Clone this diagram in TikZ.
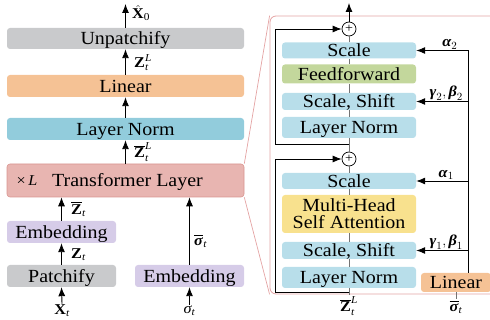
\documentclass[tikz,border=0pt]{standalone}
\usepackage{amsmath}
\usepackage{fontspec}
\setmainfont{Liberation Serif}[FakeStretch=1.08]
\usetikzlibrary{arrows.meta}
\definecolor{cgray}{HTML}{C9CACC}
\definecolor{corange}{HTML}{F5C295}
\definecolor{cblue}{HTML}{92CCDC}
\definecolor{cpink}{HTML}{E8B5B1}
\definecolor{cpinkline}{HTML}{D99590}
\definecolor{cpurple}{HTML}{D6CCE8}
\definecolor{clight}{HTML}{B8DEEA}
\definecolor{cgreen}{HTML}{C3D79C}
\definecolor{cyellow}{HTML}{F8E18E}
\definecolor{cframe}{HTML}{E4A3A3}
\newcommand{\barZ}{\overline{\textbf{Z}}}
\newcommand{\barsig}{\overline{\textbf{\textit{σ}}}}
\begin{document}
\begin{tikzpicture}[x=1pt, y=-1pt,
    box/.style={rounded corners=3pt, inner sep=0pt, text height=14.5pt, text depth=1.5pt, font=\fontsize{18.5}{17}\selectfont},
    sbox/.style={box, fill=clight, minimum width=134pt},
    lab/.style={inner sep=1pt, font=\fontsize{15}{15}\selectfont},
    arr/.style={-{Latex[length=9pt,width=7pt]}, line width=0.9pt},
    wire/.style={line width=0.8pt, black!55},
    plus/.style={circle, draw, fill=white, line width=0.7pt, minimum size=14pt, inner sep=0pt, font=\fontsize{13}{13}\selectfont}]
    \path[use as bounding box] (0,0) rectangle (490,320) ;
    \clip (0,0) rectangle (490,320) ;

    \node[box, fill=cgray, minimum width=237pt, minimum height=21pt] (unp) at (125.5,38.5) {Unpatchify} ;
    \node[box, fill=corange, minimum width=237pt, minimum height=22pt] (lin) at (125.5,86) {Linear} ;
    \node[box, fill=cblue, minimum width=237pt, minimum height=22pt] (ln) at (125.5,129) {Layer Norm} ;
    \node[box, fill=cpink, draw=cpinkline, line width=0.6pt, minimum width=237pt, minimum height=33pt] (tl) at (125.5,180.5) {\hspace{4pt}Transformer Layer} ;
    \node[lab] (xl) at (27,181) {×\,\textit{L}} ;
    \node[box, fill=cpurple, minimum width=109pt, minimum height=22pt] (emb) at (61.5,232) {Embedding} ;
    \node[box, fill=cgray, minimum width=109pt, minimum height=22pt] (pat) at (61.5,276) {Patchify} ;
    \node[box, fill=cpurple, minimum width=109pt, minimum height=22pt] (emb2) at (189.5,276) {Embedding} ;

    \coordinate (out) at (125.5,4) ;
    \node[lab] (xt) at (62,311) {$\textbf{X}_{\textit{t}}$} ;
    \node[lab] (sig) at (189.5,311) {$\textit{σ}_{\textit{t}}$} ;
    \draw[arr] (unp.north) -- (out) ;
    \draw[arr] (lin.north) -- (unp.south) ;
    \draw[arr] (ln.north) -- (lin.south) ;
    \draw[arr] (tl.north) -- (ln.south) ;
    \draw[arr] (emb.north) -- (emb.north |- tl.south) ;
    \draw[arr] (pat.north) -- (emb.south) ;
    \draw[arr] (xt.north) -- (pat.south) ;
    \draw[arr] (emb2.north) -- (emb2.north |- tl.south) ;
    \draw[arr] (sig.north) -- (emb2.south) ;
    \node[lab, anchor=west] (x0) at (131,13) {$\hat{\textbf{X}}_{\text{0}}$} ;
    \node[lab, anchor=west] (zl) at (133,63) {$\textbf{Z}_{\textit{t}}^{\textit{L}}$} ;
    \node[lab, anchor=west] (zbl) at (133,152) {$\barZ_{\textit{t}}^{\textit{L}}$} ;
    \node[lab, anchor=west] (zb) at (70,209) {$\barZ_{\textit{t}}$} ;
    \node[lab, anchor=west] (z) at (70,255) {$\textbf{Z}_{\textit{t}}$} ;
    \node[lab, anchor=west] (sb) at (193,241) {$\barsig_{\textit{t}}$} ;

    \node[draw=cframe, rounded corners=6pt, line width=0.8pt, minimum width=230pt, minimum height=278pt] (pnl) at (385,155) {} ;
    \draw[cframe, line width=0.7pt] (tl.north east) -- (pnl.north west) ;
    \draw[cframe, line width=0.7pt] (tl.south east) -- (pnl.south west) ;

    \node[plus] (plus2) at (349,29) {+} ;
    \node[sbox, minimum height=16pt] (sc2) at (349,50.5) {Scale} ;
    \node[box, fill=cgreen, minimum width=134pt, minimum height=19pt] (ff) at (349,74) {Feedforward} ;
    \node[sbox, minimum height=17pt] (ss2) at (349,101.5) {Scale, Shift} ;
    \node[sbox, minimum height=21pt] (ln2) at (349,127.5) {Layer Norm} ;
    \node[plus] (plus1) at (349,159) {+} ;
    \node[sbox, minimum height=16pt] (sc1) at (349,181) {Scale} ;
    \node[rounded corners=3pt, inner sep=0pt, fill=cyellow, minimum width=134pt, minimum height=38pt, align=center, font=\fontsize{18.5}{17}\selectfont] (mh) at (349,214) {Multi-Head\\Self Attention} ;
    \node[sbox, minimum height=17pt] (ss1) at (349,250.5) {Scale, Shift} ;
    \node[sbox, minimum height=21pt] (ln1) at (349,277.5) {Layer Norm} ;
    \node[box, fill=corange, minimum width=70pt, minimum height=19pt] (lin2) at (456,282.5) {Linear} ;
    \node[lab] (zin) at (349,306) {$\barZ_{\textit{t}}^{\textit{L}}$} ;
    \node[lab] (sin) at (456,307) {$\barsig_{\textit{t}}$} ;

    \foreach \a/\b in {ln1/ss1, ss1/mh, mh/sc1, sc1/plus1, plus1/ln2, ln2/ss2, ss2/ff, ff/sc2, sc2/plus2}
        \draw[wire] (\a) -- (\b) ;
    \draw[wire] (ln1.south) -- (zin.north) ;
    \draw[wire] (lin2.south) -- (sin.north) ;
    \coordinate (top) at (349,3) ;
    \draw[arr] (plus2.north) -- (top) ;
    \coordinate (s1) at (349,292) ;
    \coordinate (s2) at (349,144) ;
    \draw[arr] (s1) -- ++(-74,0) |- (plus1) ;
    \draw[arr] (s2) -- ++(-74,0) |- (plus2) ;

    \coordinate (ctl) at (468,0) ;
    \draw[line width=0.9pt] (sc2.east -| ctl) -- (lin2.north -| ctl) ;
    \draw[arr] (sc2.east -| ctl) -- node[lab, above, pos=0.35] (a2) {$\textbf{\textit{α}}_{2}$} (sc2.east) ;
    \draw[arr] (ss2.east -| ctl) -- node[lab, above, pos=0.42] (gb2) {$\textbf{\textit{γ}}_{2}, \textbf{\textit{β}}_{2}$} (ss2.east) ;
    \draw[arr] (sc1.east -| ctl) -- node[lab, above, pos=0.42] (a1) {$\textbf{\textit{α}}_{1}$} (sc1.east) ;
    \draw[arr] (ss1.east -| ctl) -- node[lab, above, pos=0.42] (gb1) {$\textbf{\textit{γ}}_{1}, \textbf{\textit{β}}_{1}$} (ss1.east) ;
\end{tikzpicture}
\end{document}
